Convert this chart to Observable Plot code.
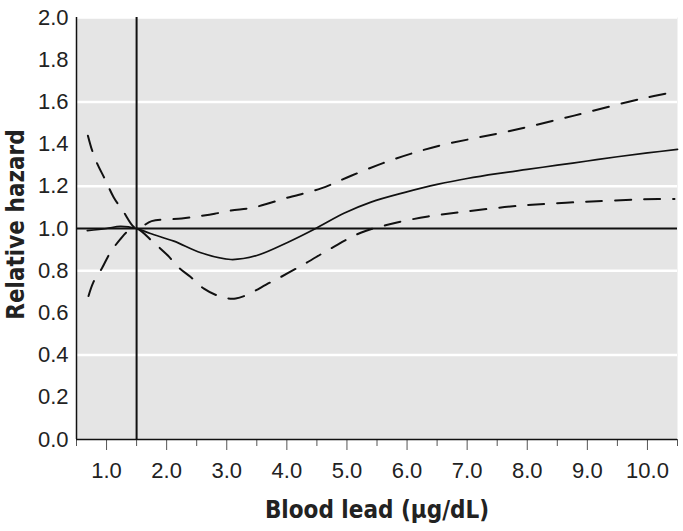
<!DOCTYPE html>
<html><head><meta charset="utf-8">
<script src="https://cdn.jsdelivr.net/npm/d3@7"></script>
<script src="https://cdn.jsdelivr.net/npm/@observablehq/plot@0.6"></script>
<style>body{margin:0;background:#fff}</style>
</head><body><div id="chart"></div>
<script>
// Relative hazard (solid)
const solidX = [0.68, 1.0, 1.23, 1.5, 1.73, 2.12, 2.57, 3.07, 3.5, 4.02, 4.48, 4.95, 5.4, 5.95, 6.52, 7.0, 7.5, 8.0, 8.5, 9.0, 9.5, 10.0, 10.5];
const solidY = [0.99, 1.0, 1.01, 1.0, 0.976, 0.94, 0.885, 0.853, 0.872, 0.935, 1.0, 1.072, 1.125, 1.17, 1.21, 1.237, 1.26, 1.28, 1.30, 1.32, 1.34, 1.358, 1.375];
// Upper confidence bound (dashed)
const upperX = [0.69, 0.76, 0.84, 0.98, 1.12, 1.27, 1.5, 1.75, 2.25, 2.5, 2.8, 3.07, 3.45, 4.0, 4.57, 5.07, 5.6, 6.07, 6.57, 7.07, 7.68, 8.78, 9.9, 10.5];
const upperY = [1.44, 1.37, 1.31, 1.23, 1.147, 1.085, 1.0, 1.035, 1.047, 1.057, 1.07, 1.085, 1.10, 1.145, 1.19, 1.25, 1.31, 1.355, 1.395, 1.425, 1.46, 1.535, 1.615, 1.65];
// Lower confidence bound (dashed)
const lowerX = [0.7, 0.78, 0.93, 1.05, 1.23, 1.37, 1.5, 1.78, 2.02, 2.2, 2.4, 2.62, 2.87, 3.15, 3.73, 4.28, 4.73, 5.23, 5.78, 6.35, 6.9, 7.95, 9.07, 10.18, 10.45];
const lowerY = [0.68, 0.745, 0.815, 0.88, 0.95, 0.99, 1.0, 0.934, 0.872, 0.815, 0.77, 0.715, 0.68, 0.668, 0.745, 0.83, 0.905, 0.98, 1.025, 1.057, 1.078, 1.11, 1.128, 1.14, 1.14];
// Axes
const xTicks = [1, 2, 3, 4, 5, 6, 7, 8, 9, 10];
const xMinorTicks = [0.5, 1.5, 2.5, 3.5, 4.5, 5.5, 6.5, 7.5, 8.5, 9.5, 10.5];
const yTicks = [0, 0.2, 0.4, 0.6, 0.8, 1.0, 1.2, 1.4, 1.6, 1.8, 2.0];
const gridY = [0.4, 0.8, 1.2, 1.6, 2.0];
const refX = [1.5];
const refY = [1.0];
const xTitle = "Blood lead (μg/dL)";
const yTitle = "Relative hazard";

const ink = "#111";
const titleFont = "'DejaVu Sans Condensed', sans-serif";
const chart = Plot.plot({
  width: 683,
  height: 531,
  marginLeft: 76,
  marginRight: 6,
  marginTop: 17,
  marginBottom: 92,
  x: {domain: [0.5, 10.5]},
  y: {domain: [0, 2]},
  style: {fontFamily: "'Liberation Sans Narrow', 'Arial Narrow', sans-serif", fontSize: "22px", color: "#222", background: "#fff"},
  marks: [
    Plot.frame({fill: "#e5e5e5", stroke: null}),
    Plot.ruleY(gridY, {stroke: "#fff", strokeWidth: 2.5}),
    Plot.ruleY(refY, {stroke: ink, strokeWidth: 1.8}),
    Plot.ruleX(refX, {stroke: ink, strokeWidth: 2}),
    Plot.line(solidY, {x: solidX, y: solidY, curve: "catmull-rom", stroke: ink, strokeWidth: 1.7}),
    Plot.line(upperY, {x: upperX, y: upperY, curve: "catmull-rom", stroke: ink, strokeWidth: 2, strokeDasharray: "16,13"}),
    Plot.line(lowerY, {x: lowerX, y: lowerY, curve: "catmull-rom", stroke: ink, strokeWidth: 2, strokeDasharray: "16,13"}),
    Plot.axisY(yTicks, {tickSize: 0, tickPadding: 8, tickFormat: d => d.toFixed(1), label: null}),
    Plot.axisX(xTicks, {tickSize: 11, tickPadding: 12, tickFormat: d => d.toFixed(1), label: null, stroke: "#555"}),
    Plot.axisX(xMinorTicks, {tickSize: 7, tickFormat: () => "", label: null, stroke: "#555"}),
    Plot.ruleY([0], {stroke: ink, strokeWidth: 1.5}),
    Plot.ruleX([0.5], {stroke: ink, strokeWidth: 1.5}),
    Plot.text([xTitle], {frameAnchor: "bottom", lineAnchor: "middle", textAnchor: "middle", dy: 71, text: d => d, fontFamily: titleFont, fontWeight: "bold", fontSize: 24, fill: "#222"}),
    Plot.text([yTitle], {frameAnchor: "left", lineAnchor: "middle", textAnchor: "middle", dx: -60, dy: -4, rotate: -90, text: d => d, fontFamily: titleFont, fontWeight: "bold", fontSize: 24, fill: "#222"})
  ]
});
document.getElementById("chart").append(chart);
</script>
</body></html>
